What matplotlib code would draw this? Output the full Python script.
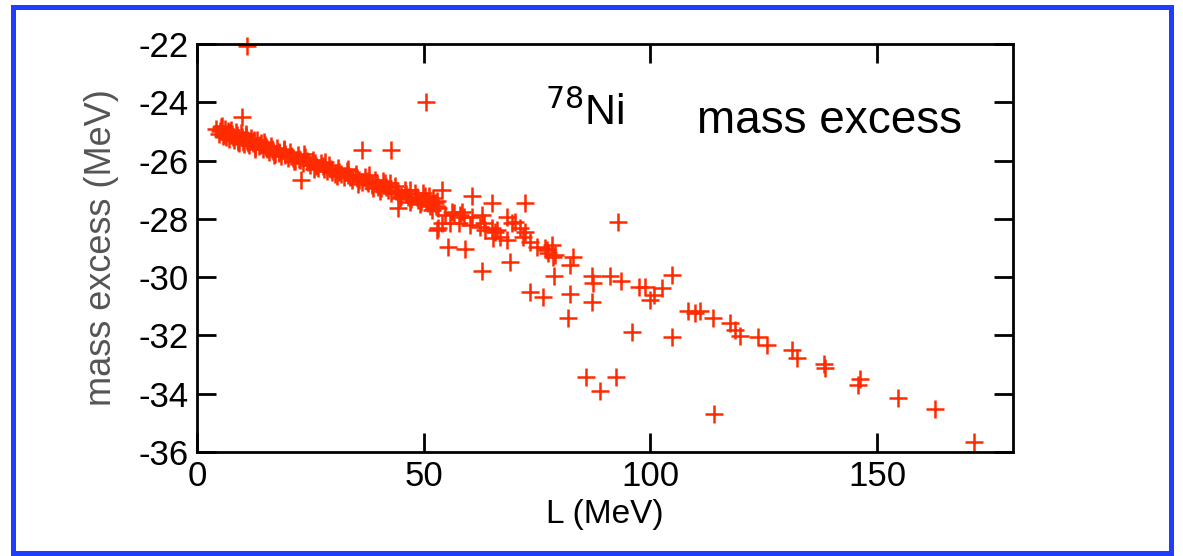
import matplotlib.pyplot as plt
import matplotlib.patches as patches

plt.rcParams['font.family'] = ['Liberation Sans', 'DejaVu Sans']
plt.rcParams['axes.unicode_minus'] = False

# dense band of points at low L
band_L = [4.2, 4.8, 5.3, 5.7, 6.1, 6.4, 6.8, 7.1, 7.5, 7.8, 8.2, 8.5, 8.9, 9.3, 9.6,
          10.0, 10.4, 10.8, 11.1, 11.5, 11.9, 12.3, 12.7, 13.2, 13.6, 14.1, 14.5, 15.0,
          15.4, 15.9, 16.3, 16.8, 17.2, 17.7, 18.1, 18.6, 19.1, 19.5, 20.0, 20.6, 21.1,
          21.7, 22.2, 22.8, 23.3, 23.9, 24.5, 25.0, 25.6, 26.2, 26.8, 27.4, 28.0, 28.6,
          29.2, 29.8, 30.5, 31.1, 31.7, 32.4, 33.0, 33.7, 34.3, 35.0, 35.7, 36.4, 37.1,
          37.8, 38.5, 39.2, 39.9, 40.6, 41.4, 42.1, 42.9, 43.6, 44.3, 45.1, 45.8, 46.6,
          47.3, 48.1, 48.8, 49.5, 50.2, 50.9, 51.5, 52.1, 52.7, 53.2,
          5.0, 6.0, 7.0, 8.0, 9.0, 10.2, 11.3, 12.5, 13.8, 15.2, 16.6, 18.0, 19.4, 20.8,
          22.5, 24.2, 26.0, 27.8, 29.5, 31.4, 33.4, 35.4, 37.5, 39.6, 41.8, 44.0, 46.2,
          48.5, 50.6, 52.4,
          5.5, 7.3, 9.1, 10.9, 12.9, 14.8, 17.0, 19.2, 21.4, 23.6, 25.9, 28.3, 30.8,
          33.2, 35.6, 38.0, 40.3, 42.6, 44.8, 47.0, 49.2, 51.2, 53.0, 38.9, 41.0, 46.9,
          49.9, 51.8]
band_M = [-24.90, -25.08, -24.85, -25.15, -24.92, -25.20, -24.98, -25.25, -24.95, -25.10,
          -25.30, -25.02, -25.12, -25.38, -25.05, -25.20, -25.42, -25.15, -25.28, -25.48,
          -25.22, -25.40, -25.55, -25.30, -25.50, -25.38, -25.62, -25.45, -25.60, -25.70,
          -25.50, -25.68, -25.78, -25.58, -25.75, -25.85, -25.65, -25.82, -25.92, -25.72,
          -25.90, -26.00, -25.80, -25.98, -26.08, -25.88, -26.05, -26.15, -25.98, -26.18,
          -26.25, -26.08, -26.28, -26.35, -26.15, -26.38, -26.45, -26.25, -26.45, -26.55,
          -26.35, -26.55, -26.65, -26.45, -26.68, -26.75, -26.55, -26.78, -26.85, -26.65,
          -26.90, -26.95, -26.78, -27.02, -27.10, -26.88, -27.12, -27.20, -27.00, -27.25,
          -27.32, -27.10, -27.35, -27.42, -27.22, -27.45, -27.55, -27.30, -27.55, -27.62,
          -25.00, -25.12, -25.05, -25.20, -25.28, -25.35, -25.40, -25.30, -25.45, -25.55,
          -25.62, -25.70, -25.78, -25.85, -25.95, -26.00, -26.10, -26.20, -26.30, -26.40,
          -26.50, -26.60, -26.70, -26.82, -26.92, -27.05, -27.15, -27.25, -27.38, -27.45,
          -24.80, -25.02, -25.35, -25.10, -25.62, -25.35, -25.80, -25.60, -26.02, -25.78,
          -26.28, -26.05, -26.52, -26.30, -26.80, -26.50, -27.05, -26.78, -27.28, -27.00,
          -27.50, -27.20, -27.40, -26.95, -26.70, -27.42, -27.12, -27.68]

# scattered points
scat_L = [9.9, 11.1, 50.5, 36.4, 42.9, 22.9, 44.4,
          54.0, 60.6, 65.1, 72.4, 92.9, 54.7, 56.2, 58.0, 57.7, 55.8, 54.0, 60.2, 62.4,
          63.5, 65.7, 65.4, 66.8, 68.3, 68.3, 69.4, 70.2, 71.3, 72.0, 72.4, 73.5, 74.9,
          76.8, 77.5, 79.0, 53.2, 52.9, 56.6, 58.4, 58.8, 60.6, 62.8, 63.2, 65.0, 66.1,
          78.2, 78.6, 77.1,
          55.4, 59.1, 69.1, 62.9, 83.0, 82.3, 78.8, 87.1, 87.4, 91.1, 93.5, 97.6, 98.8,
          99.9, 100.7, 102.5, 104.7, 73.5, 76.4, 82.3, 87.1, 81.8, 95.9, 104.7, 108.4,
          109.9, 111.0, 113.9, 117.6, 118.7, 119.8, 123.8, 125.7, 131.2, 132.3, 138.2,
          138.5, 146.3, 145.9, 154.7, 162.9, 171.3, 114.0, 85.8, 88.9, 92.4]
scat_M = [-24.50, -22.07, -24.00, -25.64, -25.64, -26.67, -27.64,
          -27.01, -27.20, -27.47, -27.47, -28.10, -27.87, -27.75, -27.87, -28.15, -28.15,
          -28.15, -28.21, -28.27, -28.38, -28.44, -28.67, -28.61, -28.73, -27.93, -28.15,
          -28.10, -28.33, -28.61, -28.45, -28.78, -28.96, -29.01, -29.18, -29.24, -28.30,
          -28.38, -27.81, -27.75, -27.93, -27.93, -27.87, -28.15, -28.33, -28.38,
          -28.90, -29.30, -29.07,
          -28.96, -29.03, -29.47, -29.78, -29.30, -29.58, -29.96, -29.96, -30.21, -29.96,
          -30.13, -30.35, -30.33, -30.79, -30.61, -30.38, -29.93, -30.50, -30.67, -30.58,
          -30.87, -31.41, -31.87, -32.07, -31.16, -31.24, -31.15, -31.41, -31.59, -31.81,
          -32.02, -32.04, -32.33, -32.50, -32.79, -32.99, -33.13, -33.51, -33.70, -34.16,
          -34.54, -35.65, -34.71, -33.44, -33.90, -33.44]

xticks = [0, 50, 100, 150]
yticks = [-22, -24, -26, -28, -30, -32, -34, -36]

red = '#ff2a00'

fig = plt.figure(figsize=(11.83, 5.56), dpi=100)
ax = fig.add_axes([197/1183, 1 - 452/556, 816/1183, 408/556])

ax.plot(band_L, band_M, linestyle='none', marker='+', color=red,
        markersize=13, markeredgewidth=1.8, clip_on=False)
ax.plot(scat_L, scat_M, linestyle='none', marker='+', color=red,
        markersize=13, markeredgewidth=1.8, clip_on=False)

ax.set_xlim(0, 180)
ax.set_ylim(-36, -22)
ax.set_xticks(xticks)
ax.set_yticks(yticks)
ax.tick_params(direction='in', length=14, width=2, top=True, right=True,
               labelsize=25, pad=6)
for s in ax.spines.values():
    s.set_linewidth(2)

ax.set_xlabel('L (MeV)', fontsize=24, labelpad=4)
ax.set_ylabel('mass excess (MeV)', fontsize=26, color='#555555', labelpad=14)

ax.text(76.8, -24.78, r'$^{78}$Ni', fontsize=31, va='baseline', ha='left')
ax.text(110.3, -25.05, 'mass excess', fontsize=33, va='baseline', ha='left')

# blue frame around the figure
fig.patches.append(patches.Rectangle((13/1183, 3/556), 1158/1183, 546/556,
                                     transform=fig.transFigure, fill=False,
                                     edgecolor='#1f3cff', linewidth=3.6))

plt.savefig('out.png', dpi=100)
